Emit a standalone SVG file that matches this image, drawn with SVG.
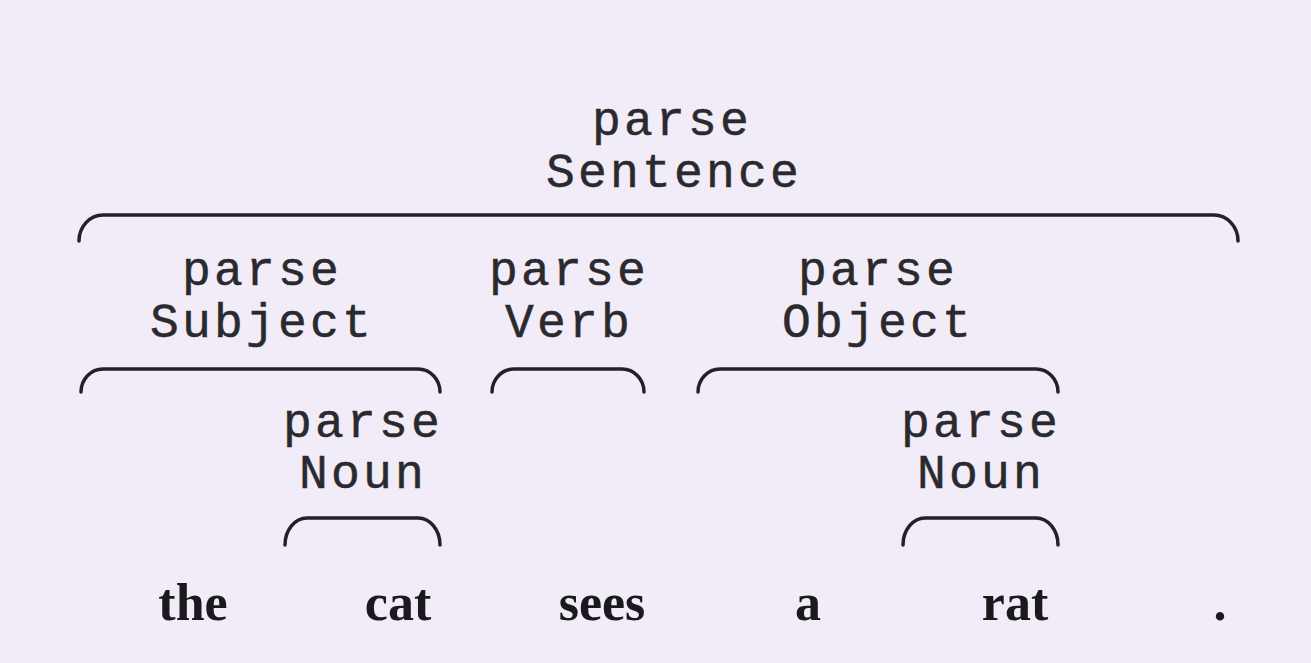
<svg xmlns="http://www.w3.org/2000/svg" width="1311" height="663" viewBox="0 0 1311 663">
<style>
.m{font-family:"Liberation Mono","Courier New",monospace;font-size:48px;letter-spacing:3.2px;fill:#2a2a2e;text-anchor:middle;stroke:#2a2a2e;stroke-width:0.5}
.w{font-family:"Liberation Serif","Times New Roman",serif;font-size:52px;font-weight:bold;fill:#1a1a1c;text-anchor:middle}
.b{fill:none;stroke:#222226;stroke-width:3.5;stroke-linecap:round}
</style>
<rect width="1311" height="663" fill="#f1ecf8"/>
<g id="sentence"><text class="m" x="672" y="135">parse</text><text class="m" x="674" y="187">Sentence</text></g>
<g id="subject"><text class="m" x="262" y="285">parse</text><text class="m" x="262" y="337">Subject</text></g>
<g id="verb"><text class="m" x="569" y="285">parse</text><text class="m" x="569" y="337">Verb</text></g>
<g id="object"><text class="m" x="878" y="285">parse</text><text class="m" x="878" y="337">Object</text></g>
<g id="noun1"><text class="m" x="363" y="437">parse</text><text class="m" x="363" y="488">Noun</text></g>
<g id="noun2"><text class="m" x="981" y="437">parse</text><text class="m" x="981" y="488">Noun</text></g>
<g id="words">
<text class="w" x="193" y="620">the</text>
<text class="w" x="398" y="620">cat</text>
<text class="w" x="602" y="620">sees</text>
<text class="w" x="808" y="620">a</text>
<text class="w" x="1015" y="620">rat</text>
<text class="w" x="1220" y="620">.</text>
</g>
<g id="connectors">
<path class="b" d="M79,241 A24,26 0 0 1 103,215 H1214 A24,26 0 0 1 1238,241"/>
<path class="b" d="M81,392 A22,23 0 0 1 103,369 H418 A22,23 0 0 1 440,392"/>
<path class="b" d="M492,392 A22,23 0 0 1 514,369 H622 A22,23 0 0 1 644,392"/>
<path class="b" d="M698,392 A22,23 0 0 1 720,369 H1036 A22,23 0 0 1 1058,392"/>
<path class="b" d="M285,545 A22,27 0 0 1 307,518 H418 A22,27 0 0 1 440,545"/>
<path class="b" d="M903,545 A22,27 0 0 1 925,518 H1036 A22,27 0 0 1 1058,545"/>
</g>
</svg>
